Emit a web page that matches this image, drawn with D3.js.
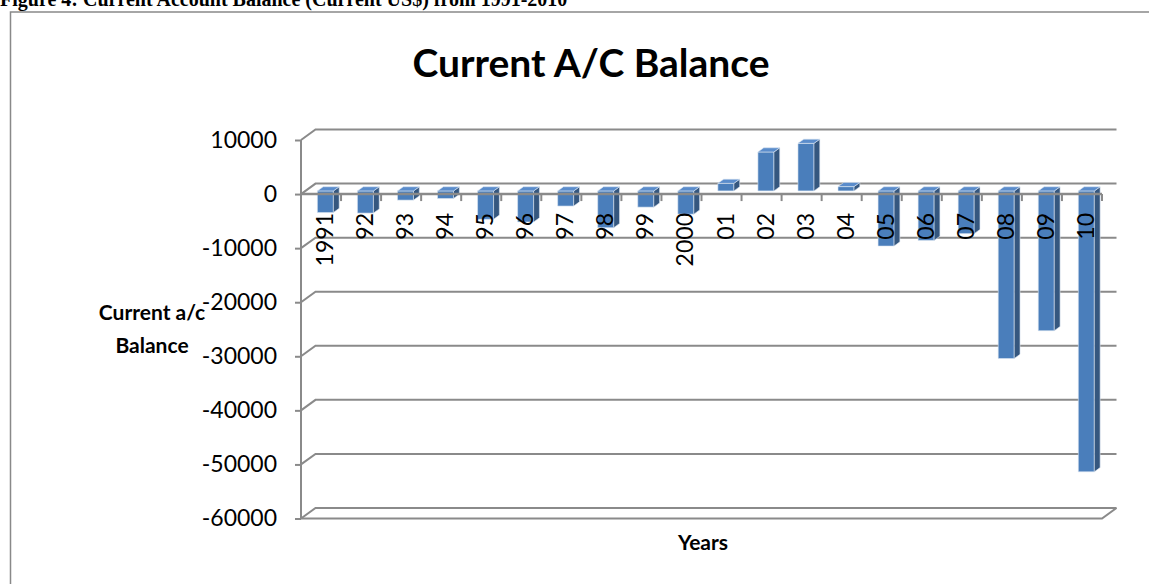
<!DOCTYPE html>
<html>
<head>
<meta charset="utf-8">
<script src="https://cdn.jsdelivr.net/npm/d3@7"></script>
<style>
  body { margin: 0; background: #fff; }
  svg { display: block; }
  text { font-family: Lato, "Open Sans", sans-serif; fill: #000; }
</style>
</head>
<body>
<svg id="chart" width="1149" height="584"></svg>
<script>
const years = ['1991', '92', '93', '94', '95', '96', '97', '98', '99', '2000',
    '01', '02', '03', '04', '05', '06', '07', '08', '09', '10'];
const balance = [-4000, -4100, -1700, -1400, -5250, -5750, -2800, -6800, -3000, -4300,
    1400, 7200, 8800, 800, -10200, -9150, -7900, -31000, -25850, -51950];
const yTicks = [10000, 0, -10000, -20000, -30000, -40000, -50000, -60000];

const DEPTH_X = 14.5;
const DEPTH_Y = -10.5;
const BAR_FRONT = 0.3;
const BAR_BACK = 0.7;

const svg = d3.select('#chart');

// figure caption, cut by the top of the page
svg.append('text')
    .attr('x', 0)
    .attr('y', 6)
    .style('font-family', '"Liberation Serif", serif')
    .style('font-weight', 'bold')
    .style('font-size', '20px')
    .text('Figure 4: Current Account Balance (Current US$) from 1991-2010');

svg.append('rect')
    .attr('x', 10.5).attr('y', 12)
    .attr('width', 1160).attr('height', 600)
    .attr('fill', 'white')
    .attr('stroke', '#898989')
    .attr('stroke-width', 1.5);

const x = d3.scaleBand()
    .domain(years)
    .range([301, 1102])
    .paddingInner(0.6)
    .paddingOuter(0.3);

const y = d3.scaleLinear()
    .domain([-60000, 10000])
    .range([518.5, 140]);

const gridColor = '#8a8a8a';
const x0 = x.range()[0];
const x1 = x.range()[1];

// back wall gridlines with the left wall step
const grid = svg.append('g')
    .attr('fill', 'none')
    .attr('stroke', gridColor)
    .attr('stroke-width', 2);

grid.selectAll('path.grid')
    .data(yTicks)
    .join('path')
    .attr('class', 'grid')
    .attr('d', d => `M${x0},${y(d)} L${x0 + DEPTH_X},${y(d) + DEPTH_Y} L${x1 + DEPTH_X},${y(d) + DEPTH_Y}`);

// floor
const yMin = y(-60000);
grid.append('path')
    .attr('d', `M${x0},${yMin} L${x1},${yMin} L${x1 + DEPTH_X},${yMin + DEPTH_Y}`);

// value axis
const yAxis = svg.append('g')
    .attr('transform', `translate(${x0},0)`)
    .call(d3.axisLeft(y).tickValues(yTicks).tickSize(6).tickPadding(18).tickFormat(d => String(d)));
yAxis.select('.domain')
    .attr('d', `M0,${y(10000)} V${yMin}`)
    .attr('stroke', gridColor)
    .attr('stroke-width', 2);
yAxis.selectAll('.tick line')
    .attr('stroke', gridColor)
    .attr('stroke-width', 2);
yAxis.selectAll('.tick text')
    .style('font-size', '23px')
    .style('font-family', 'Lato, sans-serif');

// bars
const fdx = DEPTH_X * BAR_FRONT, fdy = DEPTH_Y * BAR_FRONT;
const sdx = DEPTH_X * (BAR_BACK - BAR_FRONT), sdy = DEPTH_Y * (BAR_BACK - BAR_FRONT);
const bw = x.bandwidth();

const bars = svg.append('g')
    .selectAll('g.bar')
    .data(years.map((yr, i) => ({year: yr, value: balance[i]})))
    .join('g')
    .attr('class', 'bar')
    .attr('stroke', '#dbe5f1')
    .attr('stroke-width', 0.6)
    .attr('stroke-linejoin', 'round');

const geo = d => {
    const left = x(d.year) + fdx;
    const right = left + bw;
    const top = y(Math.max(d.value, 0)) + fdy;
    const bottom = y(Math.min(d.value, 0)) + fdy;
    return {left, right, top, bottom};
};

bars.append('path')
    .attr('fill', '#4a7ebb')
    .attr('d', d => {
        const g = geo(d);
        return `M${g.left},${g.top} H${g.right} V${g.bottom} H${g.left} Z`;
    });

bars.append('path')
    .attr('fill', '#35577f')
    .attr('d', d => {
        const g = geo(d);
        return `M${g.right},${g.top} L${g.right + sdx},${g.top + sdy} V${g.bottom + sdy} L${g.right},${g.bottom} Z`;
    });

bars.append('path')
    .attr('fill', '#5a8ccb')
    .attr('d', d => {
        const g = geo(d);
        return `M${g.left},${g.top} H${g.right} L${g.right + sdx},${g.top + sdy} H${g.left + sdx} Z`;
    });

// category axis at zero, in front of the bars
const y0 = y(0);
const step = x.step();
const axisG = svg.append('g')
    .attr('stroke', gridColor)
    .attr('stroke-width', 2.5)
    .attr('fill', 'none');
axisG.append('path')
    .attr('d', `M${x0},${y0} H${x1}`);
axisG.selectAll('line.tick')
    .data(d3.range(years.length + 1))
    .join('line')
    .attr('class', 'tick')
    .attr('x1', i => x0 + i * step)
    .attr('x2', i => x0 + i * step)
    .attr('y1', y0)
    .attr('y2', y0 + 7)
    .attr('stroke-width', 2);

svg.append('g')
    .selectAll('text')
    .data(years)
    .join('text')
    .attr('transform', d => `translate(${x(d) + bw / 2 + 12},213) rotate(-90)`)
    .attr('text-anchor', 'end')
    .style('font-size', '23px')
    .text(d => d);

// titles
svg.append('text')
    .attr('x', 591)
    .attr('y', 77)
    .attr('text-anchor', 'middle')
    .style('font-size', '39px')
    .style('font-weight', 'bold')
    .text('Current A/C Balance');

const yTitle = svg.append('text')
    .attr('text-anchor', 'middle')
    .style('font-size', '21px')
    .style('font-weight', 'bold');
yTitle.append('tspan').attr('x', 152).attr('y', 320).text('Current a/c');
yTitle.append('tspan').attr('x', 152).attr('y', 353).text('Balance');

svg.append('text')
    .attr('x', 703)
    .attr('y', 550)
    .attr('text-anchor', 'middle')
    .style('font-size', '21px')
    .style('font-weight', 'bold')
    .text('Years');
</script>
</body>
</html>
